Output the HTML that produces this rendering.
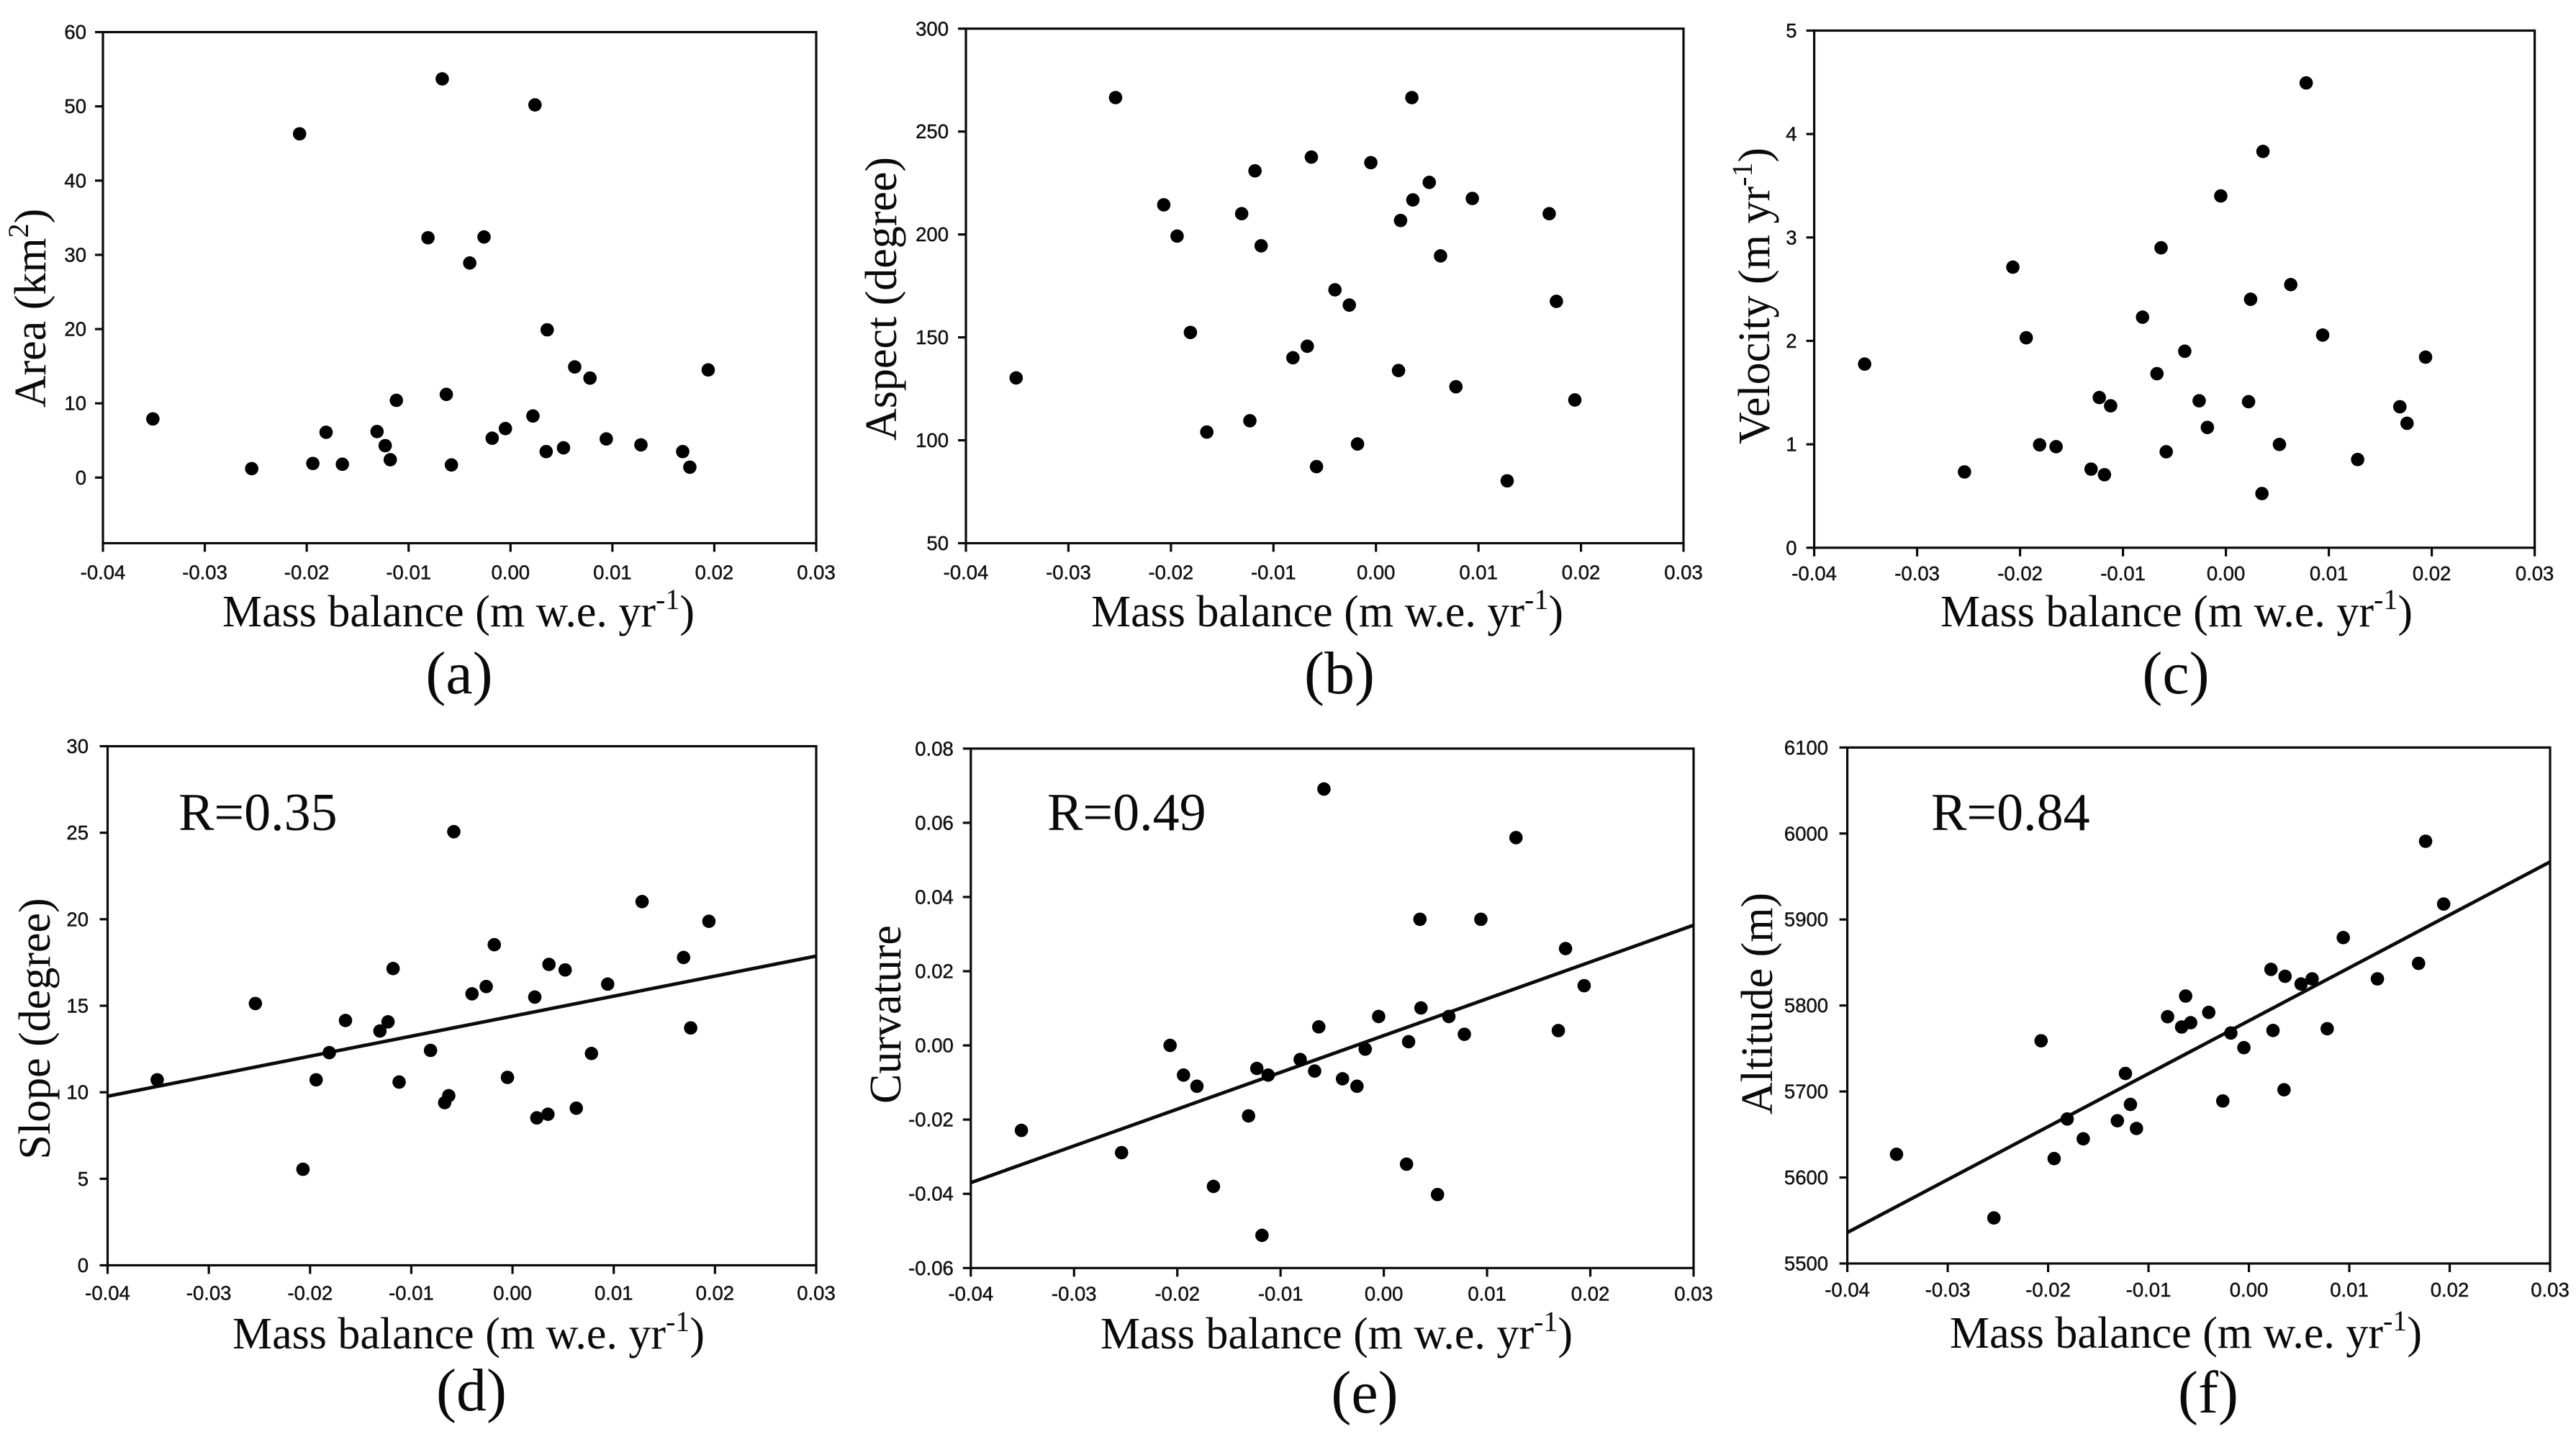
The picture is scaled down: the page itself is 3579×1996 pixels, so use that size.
<!DOCTYPE html>
<html lang="en">
<head>
<meta charset="utf-8">
<title>Mass balance correlations</title>
<style>
html,body{margin:0;padding:0;background:#fff;width:3579px;height:1996px;overflow:hidden}
svg{display:block}
.serif{font-family:"Liberation Serif",serif;fill:#0a0a0a}
.axis-title{font-size:62px}
.caption{font-size:84px}
.r-label{font-size:74px}
.tick{font-family:"Liberation Sans",sans-serif;font-size:27.5px;fill:#111;stroke:#111;stroke-width:.45px}
</style>
</head>
<body>
<svg id="figure" xmlns="http://www.w3.org/2000/svg" width="3579" height="1996" viewBox="0 0 3579 1996">
  <rect width="3579" height="1996" fill="#fff"/>

  <g id="panel-a">
    <text class="serif axis-title" x="637" y="870" text-anchor="middle">Mass balance (m w.e. yr<tspan font-size="40" dy="-24">-1</tspan><tspan dy="24">)</tspan></text>
    <text class="serif axis-title" transform="translate(63,428) rotate(-90)" text-anchor="middle">Area (km<tspan font-size="40" dy="-24">2</tspan><tspan dy="24">)</tspan></text>
    <text class="serif caption" x="638" y="963" text-anchor="middle">(a)</text>
  </g>

  <g id="panel-b">
    <text class="serif axis-title" x="1844" y="870" text-anchor="middle">Mass balance (m w.e. yr<tspan font-size="40" dy="-24">-1</tspan><tspan dy="24">)</tspan></text>
    <text class="serif axis-title" transform="translate(1245,415) rotate(-90)" text-anchor="middle">Aspect (degree)</text>
    <text class="serif caption" x="1861" y="963" text-anchor="middle">(b)</text>
  </g>

  <g id="panel-c">
    <text class="serif axis-title" x="3024" y="870" text-anchor="middle">Mass balance (m w.e. yr<tspan font-size="40" dy="-24">-1</tspan><tspan dy="24">)</tspan></text>
    <text class="serif axis-title" transform="translate(2458,411) rotate(-90)" text-anchor="middle">Velocity (m yr<tspan font-size="40" dy="-24">-1</tspan><tspan dy="24">)</tspan></text>
    <text class="serif caption" x="3023" y="963" text-anchor="middle">(c)</text>
  </g>

  <g id="panel-d">
    <text class="serif axis-title" x="651" y="1873" text-anchor="middle">Mass balance (m w.e. yr<tspan font-size="40" dy="-24">-1</tspan><tspan dy="24">)</tspan></text>
    <text class="serif axis-title" transform="translate(69,1429) rotate(-90)" text-anchor="middle">Slope (degree)</text>
    <text class="serif caption" x="655" y="1959" text-anchor="middle">(d)</text>
    <text class="serif r-label" x="248" y="1153">R=0.35</text>
  </g>

  <g id="panel-e">
    <text class="serif axis-title" x="1857" y="1873" text-anchor="middle">Mass balance (m w.e. yr<tspan font-size="40" dy="-24">-1</tspan><tspan dy="24">)</tspan></text>
    <text class="serif axis-title" transform="translate(1251,1409) rotate(-90)" text-anchor="middle">Curvature</text>
    <text class="serif caption" x="1896" y="1962" text-anchor="middle">(e)</text>
    <text class="serif r-label" x="1455" y="1153">R=0.49</text>
  </g>

  <g id="panel-f">
    <text class="serif axis-title" x="3037" y="1872" text-anchor="middle">Mass balance (m w.e. yr<tspan font-size="40" dy="-24">-1</tspan><tspan dy="24">)</tspan></text>
    <text class="serif axis-title" transform="translate(2462,1394) rotate(-90)" text-anchor="middle">Altitude (m)</text>
    <text class="serif caption" x="3068" y="1962" text-anchor="middle">(f)</text>
    <text class="serif r-label" x="2683" y="1153">R=0.84</text>
  </g>
</svg>

<script>
// ---- chart data ----
const massBalance = [-0.0351,-0.0254,-0.0207,-0.0194,-0.0181,-0.0165,-0.0131,-0.0123,-0.0118,-0.0112,-0.0081,-0.0067,-0.0063,-0.0058,-0.0040,-0.0026,-0.0018,-0.0005,0.0022,0.0024,0.0035,0.0036,0.0052,0.0063,0.0078,0.0094,0.0128,0.0169,0.0176,0.0194];
const areaValues = [7.9,1.2,46.3,1.9,6.1,1.8,6.2,4.3,2.4,10.4,32.3,53.7,11.2,1.7,28.9,32.4,5.3,6.6,8.3,50.2,3.5,19.9,4.0,14.9,13.4,5.2,4.4,3.5,1.4,14.5];
const aspectValues = [130.3,266.5,214.4,199.2,152.4,104,210.1,109.5,230.9,194.5,140.1,145.7,237.6,87.2,173.1,165.7,98.2,234.9,133.9,206.8,266.5,216.8,225.3,189.6,126,217.5,80.3,210.1,167.5,119.6];
const velocityValues = [1.776,0.733,2.713,2.03,0.995,0.977,0.76,1.452,0.706,1.372,2.229,1.683,2.9,0.928,1.9,1.421,1.163,3.401,1.412,2.402,0.524,3.832,0.999,2.544,4.494,2.056,0.853,1.363,1.203,1.843];
const slopeValues = [10.72,15.13,5.55,10.72,12.29,14.15,13.54,14.07,17.15,10.59,12.42,9.4,9.8,25.06,15.69,16.11,18.53,10.86,15.5,8.52,8.73,17.39,17.07,9.08,12.24,16.25,21.02,17.79,13.72,19.88];
const curvatureValues = [-0.0229,-0.0289,0,-0.008,-0.011,-0.038,-0.019,-0.0062,-0.0512,-0.008,-0.0038,-0.0069,0.005,0.0691,-0.009,-0.011,-0.001,0.0078,-0.032,0.001,0.034,0.0101,-0.0402,0.0078,0.003,0.034,0.056,0.004,0.0261,0.0161];
const altitudeValues = [5627,5553,5759,5622,5668,5645,5666,5721,5685,5657,5787,5775,5811,5780,5792,5689,5768,5751,5842,5771,5702,5834,5825,5831,5773,5879,5831,5849,5991,5918];

// ---- tick labels ----
const xTickLabels = ["-0.04","-0.03","-0.02","-0.01","0.00","0.01","0.02","0.03"];
const areaTickLabels = ["0","10","20","30","40","50","60"];
const aspectTickLabels = ["50","100","150","200","250","300"];
const velocityTickLabels = ["0","1","2","3","4","5"];
const slopeTickLabels = ["0","5","10","15","20","25","30"];
const curvatureTickLabels = ["-0.06","-0.04","-0.02","0.00","0.02","0.04","0.06","0.08"];
const altitudeTickLabels = ["5500","5600","5700","5800","5900","6000","6100"];

// ---- fitted trend lines: value at each end of the x range ----
const trendX = [-0.04, 0.03];
const slopeTrend = [9.77, 17.87];
const curvatureTrend = [-0.037, 0.0324];
const altitudeTrend = [5536, 5967];

// ---- panel definitions (plot box + value domain) ----
const panels = [
  {id:'area',      group:'panel-a', box:{l:143,   r:1134,  t:44.6,   b:754.5},  yMin:-8.84, yMax:60,   values:areaValues,      ticks:areaTickLabels,      tickGap:50, labelGap:23},
  {id:'aspect',    group:'panel-b', box:{l:1342,  r:2339,  t:39.8,   b:754.5},  yMin:50,    yMax:300,  values:aspectValues,    ticks:aspectTickLabels,    tickGap:50, labelGap:24},
  {id:'velocity',  group:'panel-c', box:{l:2520.6,r:3521.6,t:42.5,   b:760.8},  yMin:0,     yMax:5,    values:velocityValues,  ticks:velocityTickLabels,  tickGap:45, labelGap:24},
  {id:'slope',     group:'panel-d', box:{l:149.5, r:1134,  t:1036.5, b:1757.5}, yMin:0,     yMax:30,   values:slopeValues,     ticks:slopeTickLabels,     tickGap:48, labelGap:26.5, trend:slopeTrend},
  {id:'curvature', group:'panel-e', box:{l:1348.8,r:2353,  t:1039.8, b:1761.3}, yMin:-0.06, yMax:0.08, values:curvatureValues, ticks:curvatureTickLabels, tickGap:45, labelGap:24, trend:curvatureTrend},
  {id:'altitude',  group:'panel-f', box:{l:2566.6,r:3543,  t:1038.3, b:1755},   yMin:5500,  yMax:6100, values:altitudeValues,  ticks:altitudeTickLabels,  tickGap:46, labelGap:26.5, trend:altitudeTrend}
];

const SVG_NS = 'http://www.w3.org/2000/svg';
const X_MIN = -0.04, X_MAX = 0.03;
const INK = '#0a0a0a';

function make(tag, attrs, parent) {
  const el = document.createElementNS(SVG_NS, tag);
  Object.keys(attrs).forEach(function (k) { el.setAttribute(k, attrs[k]); });
  parent.appendChild(el);
  return el;
}

panels.forEach(function (p) {
  const root = document.getElementById(p.group);
  const b = p.box;
  const xScale = function (v) { return b.l + (v - X_MIN) / (X_MAX - X_MIN) * (b.r - b.l); };
  const yScale = function (v) { return b.b - (v - p.yMin) / (p.yMax - p.yMin) * (b.b - b.t); };

  const frame = make('rect', {x:b.l, y:b.t, width:b.r-b.l, height:b.b-b.t, fill:'none', stroke:INK, 'stroke-width':3.2}, root);
  
  

  xTickLabels.forEach(function (label) {
    const x = xScale(parseFloat(label));
    const tick = make('line', {x1:x, x2:x, y1:b.b, y2:b.b+12, stroke:INK, 'stroke-width':3.2}, root);
    
    
    const text = make('text', {class:'tick', x:x, y:b.b+p.tickGap, 'text-anchor':'middle'}, root);
    text.textContent = label;
    
    
  });

  p.ticks.forEach(function (label) {
    const y = yScale(parseFloat(label));
    const tick = make('line', {x1:b.l-11, x2:b.l, y1:y, y2:y, stroke:INK, 'stroke-width':3.2}, root);
    
    
    const text = make('text', {class:'tick', x:b.l-p.labelGap, y:y+9.5, 'text-anchor':'end'}, root);
    text.textContent = label;
    
    
  });

  if (p.trend) {
    const line = make('line', {x1:xScale(trendX[0]), y1:yScale(p.trend[0]), x2:xScale(trendX[1]), y2:yScale(p.trend[1]), stroke:INK, 'stroke-width':4.8}, root);
    
    
  }

  massBalance.forEach(function (mb, i) {
    const dot = make('circle', {cx:xScale(mb), cy:yScale(p.values[i]), r:9.3, fill:'#000'}, root);
    
    
  });
});
</script>
</body>
</html>
